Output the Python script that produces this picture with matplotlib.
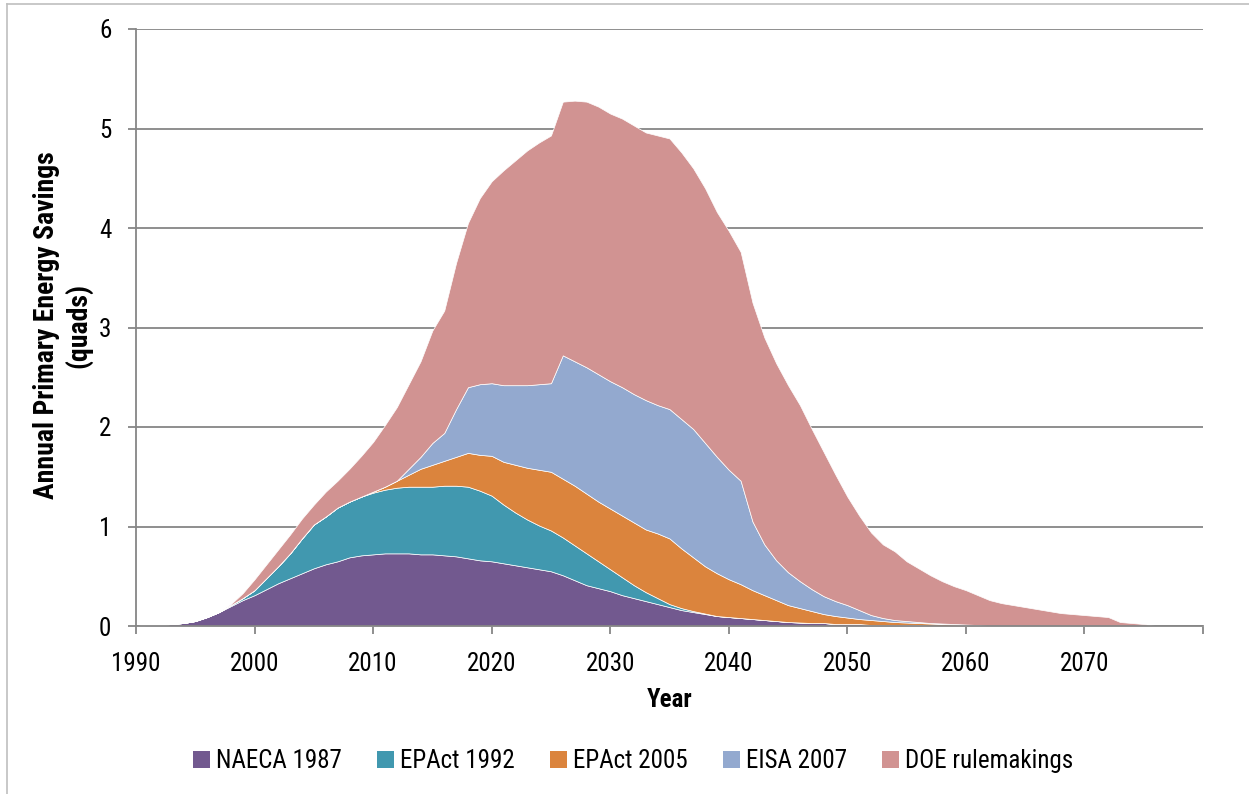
import numpy as np
import matplotlib
matplotlib.use("Agg")
import matplotlib.pyplot as plt
from matplotlib import font_manager
from matplotlib.patches import Patch
from matplotlib.lines import Line2D

# ---------------- data ----------------
years = list(range(1990, 2081))

naeca_1987 = [0.00, 0.01, 0.01, 0.02, 0.03, 0.05, 0.09, 0.14, 0.20, 0.26,
              0.31, 0.37, 0.43, 0.48, 0.53, 0.58, 0.62, 0.65, 0.69, 0.71,
              0.72, 0.73, 0.73, 0.73, 0.72, 0.72, 0.71, 0.70, 0.68, 0.66,
              0.65, 0.63, 0.61, 0.59, 0.57, 0.55, 0.51, 0.46, 0.41, 0.38,
              0.35, 0.31, 0.28, 0.25, 0.22, 0.19, 0.16, 0.14, 0.12, 0.10,
              0.09, 0.08, 0.07, 0.06, 0.05, 0.04, 0.035, 0.03, 0.03, 0.02,
              0.02, 0.02, 0.01, 0.01, 0.01, 0.01, 0.01] + [0.0] * 24

epact_1992 = [0.0] * 8 + [0.01, 0.02,
              0.05, 0.11, 0.17, 0.25, 0.35, 0.44, 0.48, 0.54, 0.56, 0.59,
              0.62, 0.64, 0.66, 0.67, 0.68, 0.68, 0.70, 0.71, 0.72, 0.70,
              0.66, 0.59, 0.53, 0.48, 0.44, 0.41, 0.38, 0.35, 0.32, 0.27,
              0.22, 0.18, 0.13, 0.09, 0.06, 0.03, 0.02, 0.01, 0.005] + [0.0] * 42

epact_2005 = [0.0] * 20 + [
              0.01, 0.03, 0.07, 0.12, 0.18, 0.22, 0.25, 0.29, 0.34, 0.36,
              0.40, 0.43, 0.48, 0.52, 0.56, 0.59, 0.59, 0.60, 0.60, 0.60,
              0.61, 0.62, 0.63, 0.63, 0.65, 0.66, 0.60, 0.54, 0.475, 0.43,
              0.38, 0.34, 0.29, 0.25, 0.21, 0.17, 0.145, 0.12, 0.09, 0.08,
              0.065, 0.05, 0.05, 0.04, 0.03, 0.025, 0.02, 0.025, 0.02, 0.015,
              0.01, 0.005] + [0.0] * 19

eisa_2007 = [0.0] * 22 + [
              0.0, 0.06, 0.12, 0.22, 0.28, 0.48, 0.66, 0.71,
              0.73, 0.77, 0.80, 0.83, 0.86, 0.89, 1.24, 1.25, 1.27, 1.28,
              1.28, 1.29, 1.29, 1.30, 1.29, 1.30, 1.30, 1.29, 1.24, 1.17,
              1.10, 1.04, 0.69, 0.51, 0.40, 0.33, 0.27, 0.22, 0.18, 0.15,
              0.125, 0.09, 0.05, 0.03, 0.02, 0.015, 0.01, 0.005, 0.005, 0.005,
              0.005, 0.005] + [0.0] * 19

doe_rulemakings = [0.0] * 8 + [0.01, 0.05,
              0.11, 0.14, 0.17, 0.19, 0.20, 0.20, 0.25, 0.27, 0.33, 0.41,
              0.50, 0.62, 0.74, 0.85, 0.96, 1.13, 1.23, 1.47, 1.65, 1.87,
              2.03, 2.16, 2.26, 2.36, 2.43, 2.49, 2.55, 2.62, 2.67, 2.69,
              2.69, 2.70, 2.70, 2.69, 2.71, 2.72, 2.68, 2.62, 2.56, 2.46,
              2.40, 2.30, 2.20, 2.08, 1.98, 1.88, 1.77, 1.61, 1.45, 1.27,
              1.09, 0.95, 0.83, 0.74, 0.69, 0.60, 0.54, 0.48, 0.425, 0.38,
              0.345, 0.30, 0.26, 0.23, 0.21, 0.19, 0.17, 0.15, 0.13, 0.12,
              0.11, 0.10, 0.09, 0.04, 0.03, 0.02] + [0.0] * 5

series_labels = ["NAECA 1987", "EPAct 1992", "EPAct 2005", "EISA 2007", "DOE rulemakings"]
series_colors = ["#72598F", "#4198AF", "#DB843D", "#93A9CF", "#D19392"]

x_ticks = list(range(1990, 2081, 10))
x_tick_labels = [str(v) for v in range(1990, 2071, 10)] + [""]
y_ticks = [0, 1, 2, 3, 4, 5, 6]

x_title = "Year"
y_title = "Annual Primary Energy Savings\n(quads)"

# ---------------- fonts ----------------
available = {f.name for f in font_manager.fontManager.ttflist}
narrow = next((n for n in ["Roboto Condensed", "Liberation Sans Narrow",
                           "Open Sans Condensed", "Lato"] if n in available),
              "DejaVu Sans")
plt.rcParams["font.family"] = [narrow, "DejaVu Sans"]

# ---------------- figure ----------------
W, H = 1249, 794
fig = plt.figure(figsize=(W / 100, H / 100), dpi=100)
ax = fig.add_axes([136 / W, 1 - 626 / H, (1203 - 136) / W, (626 - 29) / H])

grid_c = "#868686"
ax.stackplot(years, naeca_1987, epact_1992, epact_2005, eisa_2007, doe_rulemakings,
             colors=series_colors, labels=series_labels,
             edgecolor="white", linewidth=0.5, zorder=2)

ax.set_xlim(1990, 2080)
ax.set_ylim(0, 6)
ax.set_xticks(x_ticks)
ax.set_xticklabels(x_tick_labels)
ax.set_yticks(y_ticks)
ax.yaxis.grid(True, color=grid_c, linewidth=1.3, zorder=1)
ax.set_axisbelow(True)

for s in ["top", "right"]:
    ax.spines[s].set_visible(False)
for s in ["left", "bottom"]:
    ax.spines[s].set_color(grid_c)
    ax.spines[s].set_linewidth(1.3)
    ax.spines[s].set_zorder(3)

ax.tick_params(axis="both", direction="out", length=5.8, width=1.3, color=grid_c,
               labelsize=18, labelcolor="black")
ax.tick_params(axis="y", pad=12)
ax.tick_params(axis="x", pad=13)

ax.set_xlabel(x_title, fontsize=18, fontweight="bold")
ax.xaxis.set_label_coords(0.5, (626 - 700) / 597)
ax.xaxis.label.set_va("center")

fig.text(63 / W, 1 - 325 / H, y_title, rotation=90, ha="center", va="center",
         multialignment="center", fontsize=20, fontweight="bold", linespacing=1.2)

handles = [Patch(facecolor=c, edgecolor="none") for c in series_colors]
fig.legend(handles, series_labels, loc="center", bbox_to_anchor=(633 / W, 1 - 761 / H),
           ncol=5, frameon=False, fontsize=18, handlelength=0.68, handleheight=0.68,
           handletextpad=0.25, columnspacing=1.4, borderaxespad=0, borderpad=0)

# light outer border (left and top visible)
fig.add_artist(Line2D([7 / W, 7 / W], [0, 1 - 4 / H], color="#BFBFBF", lw=1.2,
                      transform=fig.transFigure))
fig.add_artist(Line2D([7 / W, 1], [1 - 4 / H, 1 - 4 / H], color="#BFBFBF", lw=1.2,
                      transform=fig.transFigure))

fig.savefig("out.png", dpi=100)
